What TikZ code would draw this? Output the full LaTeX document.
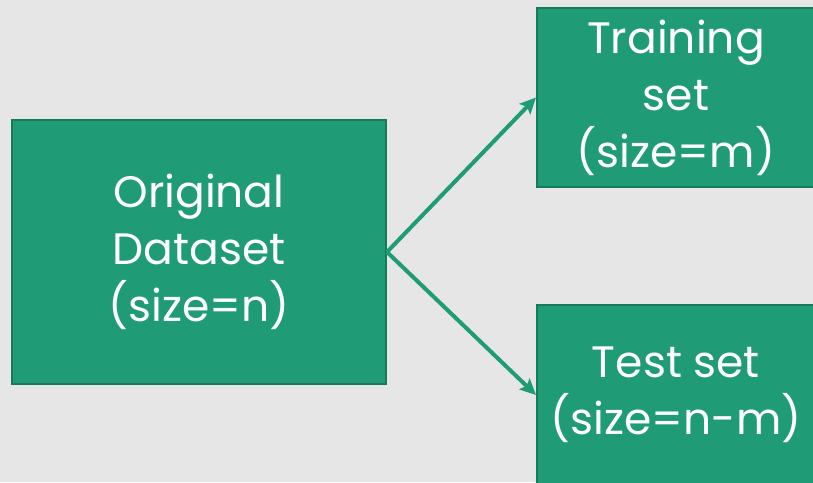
\documentclass[tikz,border=0pt]{standalone}
\usepackage{fontspec}
\setmainfont{Poppins}
\usepackage{xcolor}
\definecolor{pagegrey}{RGB}{230, 230, 230}
\definecolor{boxgreen}{RGB}{31, 156, 118}
\definecolor{edgegreen}{RGB}{22, 122, 92}
\usepackage{tikz}
\usetikzlibrary{arrows.meta, positioning}

\begin{document}
\begin{tikzpicture}[x=1pt, y=-1pt, >={Stealth[length=16pt, width=15pt, inset=3pt]},
    databox/.style={draw=edgegreen, line width=2pt, fill=boxgreen, text=white,
        align=center, inner sep=0pt, font=\fontsize{44}{57}\selectfont},
    flow/.style={->, line width=4pt, boxgreen}]
    \useasboundingbox[fill=pagegrey] (0, 0) rectangle (813, 482);

    \node[databox, minimum width=374pt, minimum height=264pt] (orig) at (199, 252) {Original\\Dataset\\(size=n)};
    \node[databox, minimum width=278pt, minimum height=179pt] (train) at (676, 97.5) {Training\\set\\(size=m)};
    \node[databox, minimum width=278pt, minimum height=180pt] (test) at (676, 395) {Test set\\(size=n-m)};

    \draw[flow] (orig.east) -- (train.west);
    \draw[flow] (orig.east) -- (test.west);
\end{tikzpicture}
\end{document}
